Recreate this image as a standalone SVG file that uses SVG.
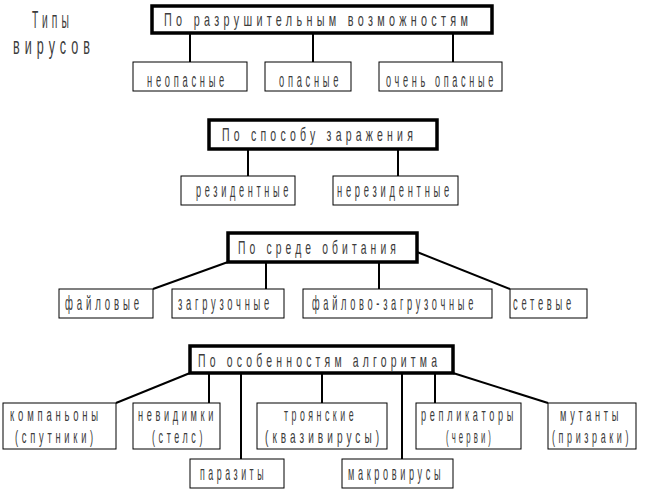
<svg xmlns="http://www.w3.org/2000/svg" width="646" height="490" viewBox="0 0 646 490">
<style>
  .bg { fill: #ffffff; }
  .main { fill: #ffffff; stroke: #000000; stroke-width: 3.5; }
  .box { fill: #ffffff; stroke: #000000; stroke-width: 1; }
  .con line { stroke: #000000; stroke-width: 2; }
  text { font-family: "Liberation Sans", Arial, sans-serif; fill: #3c3c3c; letter-spacing: 0.4em; }
  .t { font-size: 23px; }
  .h { font-size: 18px; }
  .c { font-size: 20px; }
  .c2 { font-size: 18px; }
</style>
<rect class="bg" x="0" y="0" width="646" height="490"/>

<g id="title">
  <text class="t" transform="translate(32 28) scale(0.442 1)" textLength="92.7" lengthAdjust="spacingAndGlyphs">Типы</text>
  <text class="t" transform="translate(13 54) scale(0.546 1)" textLength="150.3" lengthAdjust="spacingAndGlyphs">вирусов</text>
</g>

<g id="connectors" class="con">
  <line x1="190" y1="33" x2="190" y2="62"/>
  <line x1="313" y1="33" x2="313" y2="62"/>
  <line x1="453" y1="33" x2="453" y2="62"/>
  <line x1="248" y1="149" x2="248" y2="176"/>
  <line x1="398" y1="149" x2="398" y2="176"/>
  <line x1="228" y1="262" x2="153" y2="289"/>
  <line x1="266" y1="262" x2="266" y2="289"/>
  <line x1="379" y1="262" x2="379" y2="289"/>
  <line x1="417" y1="252" x2="510" y2="289"/>
  <line x1="190" y1="373" x2="116" y2="403"/>
  <line x1="209" y1="373" x2="209" y2="403"/>
  <line x1="241" y1="373" x2="241" y2="459"/>
  <line x1="322" y1="373" x2="322" y2="403"/>
  <line x1="402" y1="373" x2="402" y2="459"/>
  <line x1="435" y1="373" x2="435" y2="403"/>
  <line x1="453" y1="373" x2="548" y2="403"/>
</g>

<g id="m1">
  <rect class="main" x="152" y="6" width="340" height="27"/>
  <text class="h" transform="translate(164 26) scale(0.606 1)" textLength="508.5" lengthAdjust="spacingAndGlyphs">По разрушительным возможностям</text>
</g>
<g id="n-neopasnye">
  <rect class="box" x="133" y="62" width="114" height="29"/>
  <text class="c" transform="translate(147 87) scale(0.466 1)" textLength="173.8" lengthAdjust="spacingAndGlyphs">неопасные</text>
</g>
<g id="n-opasnye">
  <rect class="box" x="265" y="62" width="86" height="29"/>
  <text class="c" transform="translate(279 87) scale(0.465 1)" textLength="135.6" lengthAdjust="spacingAndGlyphs">опасные</text>
</g>
<g id="n-ochen">
  <rect class="box" x="379" y="62" width="123" height="29"/>
  <text class="c" transform="translate(386 87) scale(0.456 1)" textLength="243.3" lengthAdjust="spacingAndGlyphs">очень опасные</text>
</g>

<g id="m2">
  <rect class="main" x="209" y="120" width="228" height="29"/>
  <text class="h" transform="translate(222 141) scale(0.584 1)" textLength="334.1" lengthAdjust="spacingAndGlyphs">По способу заражения</text>
</g>
<g id="n-rez">
  <rect class="box" x="181" y="176" width="114" height="29"/>
  <text class="c" transform="translate(196 197) scale(0.457 1)" textLength="210.1" lengthAdjust="spacingAndGlyphs">резидентные</text>
</g>
<g id="n-nerez">
  <rect class="box" x="333" y="176" width="125" height="29"/>
  <text class="c" transform="translate(337 197) scale(0.467 1)" textLength="248.3" lengthAdjust="spacingAndGlyphs">нерезидентные</text>
</g>

<g id="m3">
  <rect class="main" x="228" y="233" width="189" height="29"/>
  <text class="h" transform="translate(238 254) scale(0.572 1)" textLength="283.3" lengthAdjust="spacingAndGlyphs">По среде обитания</text>
</g>
<g id="n-fail">
  <rect class="box" x="59" y="289" width="94" height="29"/>
  <text class="c" transform="translate(65 310) scale(0.482 1)" textLength="161.7" lengthAdjust="spacingAndGlyphs">файловые</text>
</g>
<g id="n-zagr">
  <rect class="box" x="172" y="289" width="112" height="29"/>
  <text class="c" transform="translate(178 310) scale(0.466 1)" textLength="203.9" lengthAdjust="spacingAndGlyphs">загрузочные</text>
</g>
<g id="n-failzagr">
  <rect class="box" x="303" y="289" width="189" height="29"/>
  <text class="c" transform="translate(312 310) scale(0.461 1)" textLength="357.9" lengthAdjust="spacingAndGlyphs">файлово-загрузочные</text>
</g>
<g id="n-set">
  <rect class="box" x="510" y="289" width="77" height="29"/>
  <text class="c" transform="translate(513 310) scale(0.464 1)" textLength="133.5" lengthAdjust="spacingAndGlyphs">сетевые</text>
</g>

<g id="m4">
  <rect class="main" x="190" y="346" width="263" height="27"/>
  <text class="h" transform="translate(198 367) scale(0.58 1)" textLength="419.3" lengthAdjust="spacingAndGlyphs">По особенностям алгоритма</text>
</g>
<g id="n-komp">
  <rect class="box" x="3" y="403" width="113" height="46"/>
  <text class="c2" transform="translate(10 421) scale(0.528 1)" textLength="174.2" lengthAdjust="spacingAndGlyphs">компаньоны</text>
  <text class="c2" transform="translate(15 443) scale(0.519 1)" textLength="157.9" lengthAdjust="spacingAndGlyphs">(спутники)</text>
</g>
<g id="n-nevid">
  <rect class="box" x="133" y="403" width="87" height="46"/>
  <text class="c2" transform="translate(138 421) scale(0.509 1)" textLength="155.3" lengthAdjust="spacingAndGlyphs">невидимки</text>
  <text class="c2" transform="translate(152 443) scale(0.495 1)" textLength="109.1" lengthAdjust="spacingAndGlyphs">(стелс)</text>
</g>
<g id="n-troj">
  <rect class="box" x="257" y="403" width="130" height="46"/>
  <text class="c2" transform="translate(284 421) scale(0.488 1)" textLength="149.7" lengthAdjust="spacingAndGlyphs">троянские</text>
  <text class="c2" transform="translate(265 443) scale(0.557 1)" textLength="211.9" lengthAdjust="spacingAndGlyphs">(квазивирусы)</text>
</g>
<g id="n-repl">
  <rect class="box" x="416" y="403" width="105" height="46"/>
  <text class="c2" transform="translate(421 421) scale(0.509 1)" textLength="188.6" lengthAdjust="spacingAndGlyphs">репликаторы</text>
  <text class="c2" transform="translate(446 443) scale(0.431 1)" textLength="111.4" lengthAdjust="spacingAndGlyphs">(черви)</text>
</g>
<g id="n-mut">
  <rect class="box" x="548" y="403" width="88" height="46"/>
  <text class="c2" transform="translate(560 421) scale(0.512 1)" textLength="121.2" lengthAdjust="spacingAndGlyphs">мутанты</text>
  <text class="c2" transform="translate(552 443) scale(0.5 1)" textLength="160" lengthAdjust="spacingAndGlyphs">(призраки)</text>
</g>
<g id="n-paraz">
  <rect class="box" x="190" y="459" width="94" height="29"/>
  <text class="c" transform="translate(200 480) scale(0.441 1)" textLength="152.1" lengthAdjust="spacingAndGlyphs">паразиты</text>
</g>
<g id="n-makro">
  <rect class="box" x="342" y="459" width="111" height="29"/>
  <text class="c" transform="translate(348 480) scale(0.455 1)" textLength="211.2" lengthAdjust="spacingAndGlyphs">макровирусы</text>
</g>
</svg>
